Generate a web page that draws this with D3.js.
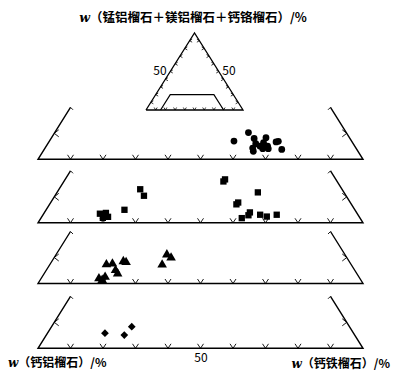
<!DOCTYPE html>
<html>
<head>
<meta charset="utf-8">
<script src="https://cdn.jsdelivr.net/npm/d3@7"></script>
<style>
  body { margin: 0; background: #fff; }
  svg { display: block; }
  text { font-family: "Noto Sans CJK SC", "Noto Sans", sans-serif; fill: #000; }
</style>
</head>
<body>
<div class="result"></div>
<script>
// compositions: [andradite %, (Sps+Prp+Uva) %]; grossular = rest
const circles = [[56.8, 7.0], [59.6, 10.3], [62.5, 8.0], [66.0, 8.3], [66.2, 6.4], [64.0, 6.0],
  [63.9, 4.3], [65.7, 5.1], [68.1, 5.1], [67.1, 4.1], [64.7, 3.1], [70.5, 6.9], [69.9, 6.7],
  [73.1, 3.8], [68.8, 4.1]];
const squares = [[17.3, 3.5], [19.0, 3.8], [19.0, 1.9], [20.4, 2.3], [24.1, 5.0], [25.0, 12.9],
  [27.4, 10.4], [49.1, 15.9], [49.2, 16.7], [61.8, 11.7], [57.7, 7.8], [57.5, 7.1], [63.2, 4.0],
  [63.3, 2.9], [61.8, 1.8], [66.8, 3.1], [69.2, 2.4], [71.9, 3.1]];
const triangles = [[17.8, 1.9], [19.4, 2.5], [19.1, 1.3], [17.4, 7.3], [19.1, 7.6], [22.0, 8.5],
  [23.0, 8.2], [21.3, 5.1], [22.6, 3.8], [34.1, 11.1], [36.0, 9.9], [34.6, 7.2]];
const diamonds = [[17.7, 5.8], [24.0, 5.1], [24.7, 8.3]];

const baseTicks = [10, 20, 30, 40, 50, 60, 70, 80, 90];
const sideTicks = [10];
const insetTicks = [10, 20, 30, 40, 50, 60, 70, 80, 90];
const insetZoom = [[15, 0], [25, 20], [70, 20], [80, 0]]; // [base position %, top %]

const titleTop = 'w（锰铝榴石＋镁铝榴石＋钙铬榴石）/%';
const labelLeft = 'w（钙铝榴石）/%';
const labelRight = 'w（钙铁榴石）/%';

const w = 396, h = 382;
const svg = d3.select('.result').append('svg').attr('width', w).attr('height', h);

// ---------- inset triangle ----------
const ix = d3.scaleLinear().domain([0, 100]).range([146, 243]);
const iy = d3.scaleLinear().domain([0, 100]).range([110, 33]);
const ipt = (u, t) => [ix(u), iy(t)];
const inset = svg.append('g');
inset.append('path')
  .attr('d', d3.line()([ipt(0, 0), ipt(50, 100), ipt(100, 0), ipt(0, 0)]))
  .attr('fill', 'none').attr('stroke', '#000').attr('stroke-width', 1.3);
inset.append('path')
  .attr('d', d3.line()(insetZoom.map(d => ipt(d[0], d[1]))))
  .attr('fill', 'none').attr('stroke', '#000').attr('stroke-width', 1.2);

const itk = [];
insetTicks.forEach(v => {
  const b = ipt(v, 0);
  itk.push(`M${b[0] - 1.5},${b[1] - 2.5}L${b[0]},${b[1]}L${b[0] + 1.5},${b[1] - 2.5}`);
  const l = ipt(v / 2, v);
  itk.push(`M${l[0] + 2.5},${l[1] - 1.5}L${l[0]},${l[1]}L${l[0] + 2.5},${l[1] + 1.5}`);
  const r = ipt(100 - v / 2, v);
  itk.push(`M${r[0] - 2.5},${r[1] - 1.5}L${r[0]},${r[1]}L${r[0] - 2.5},${r[1] + 1.5}`);
});
inset.append('path').attr('d', itk.join('')).attr('fill', 'none')
  .attr('stroke', '#000').attr('stroke-width', 0.8);
inset.append('text').attr('x', 160).attr('y', 75).attr('text-anchor', 'middle')
  .attr('font-size', 12).text('50');
inset.append('text').attr('x', 229).attr('y', 75).attr('text-anchor', 'middle')
  .attr('font-size', 12).text('50');

// ---------- trapezoid panels ----------
const panels = [
  { bottom: 159.3, data: circles, symbol: d3.symbolCircle, size: 36, rotate: 0 },
  { bottom: 222.8, data: squares, symbol: d3.symbolSquare, size: 40, rotate: 0 },
  { bottom: 283.5, data: triangles, symbol: d3.symbolTriangle, size: 40, rotate: 0 },
  { bottom: 348.3, data: diamonds, symbol: d3.symbolSquare, size: 30, rotate: 45 }
];

const x = d3.scaleLinear().domain([0, 100]).range([38, 363]);

panels.forEach(p => {
  const y = d3.scaleLinear().domain([0, 20]).range([p.bottom, p.bottom - 52]);
  const pt = (u, t) => [x(u), y(t)];
  const g = svg.append('g');

  // frame: left side, base, right side (top open)
  g.append('path')
    .attr('d', d3.line()([pt(10, 20), pt(0, 0), pt(100, 0), pt(90, 20)]))
    .attr('fill', 'none').attr('stroke', '#000').attr('stroke-width', 1.4);

  const tk = [];
  baseTicks.forEach(v => {
    const b = pt(v, 0);
    tk.push(`M${b[0] - 3},${b[1] - 4.5}L${b[0]},${b[1]}L${b[0] + 3},${b[1] - 4.5}`);
  });
  sideTicks.forEach(v => {
    const l = pt(v / 2, v);
    tk.push(`M${l[0] + 4.5},${l[1] - 3.5}L${l[0]},${l[1]}L${l[0] + 4.5},${l[1] + 3.5}`);
    const r = pt(100 - v / 2, v);
    tk.push(`M${r[0] - 4.5},${r[1] - 3.5}L${r[0]},${r[1]}L${r[0] - 4.5},${r[1] + 3.5}`);
  });
  // little hooks at the top ends
  const tl = pt(10, 20), tr = pt(90, 20);
  tk.push(`M${tl[0]},${tl[1]}L${tl[0] + 2.5},${tl[1] + 2.5}`);
  tk.push(`M${tr[0]},${tr[1]}L${tr[0] - 2.5},${tr[1] + 2.5}`);
  g.append('path').attr('d', tk.join('')).attr('fill', 'none')
    .attr('stroke', '#000').attr('stroke-width', 0.9);

  const sym = d3.symbol().type(p.symbol).size(p.size);
  g.selectAll('path.pt')
    .data(p.data)
    .enter()
    .append('path')
    .attr('class', 'pt')
    .attr('d', sym)
    .attr('transform', d => {
      const c = pt(d[0] + d[1] / 2, d[1]);
      return 'translate(' + c[0] + ',' + c[1] + ')' + (p.rotate ? ' rotate(' + p.rotate + ')' : '');
    })
    .attr('fill', '#000');
});

// ---------- labels ----------
function wLabel(str, xPos, yPos, anchor, size) {
  const t = svg.append('text').attr('x', xPos).attr('y', yPos)
    .attr('text-anchor', anchor).attr('font-size', size).attr('font-weight', 'bold');
  t.append('tspan').attr('font-family', '"DejaVu Serif", serif').attr('font-style', 'italic')
    .text(str[0]);
  t.append('tspan').text(str.slice(1));
}
wLabel(titleTop, 193, 22, 'middle', 12.5);
wLabel(labelLeft, 8, 367, 'start', 12);
wLabel(labelRight, 390, 368, 'end', 12);
svg.append('text').attr('x', 201).attr('y', 362).attr('text-anchor', 'middle')
  .attr('font-size', 12).text('50');
</script>
</body>
</html>
